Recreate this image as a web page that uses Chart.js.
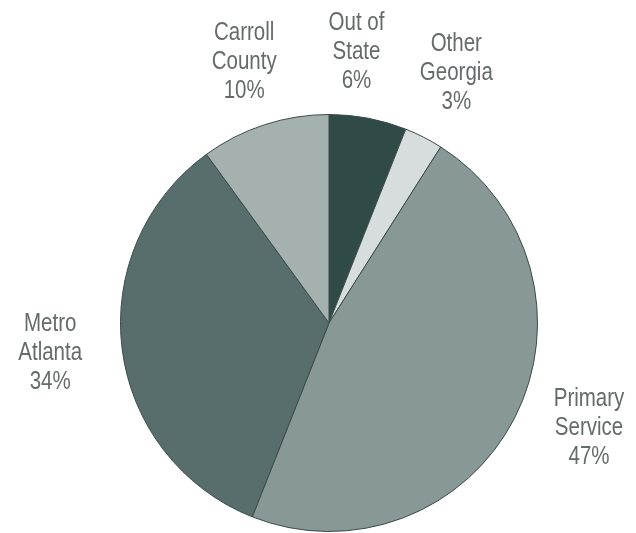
<!DOCTYPE html>
<html>
<head>
<meta charset="utf-8">
<script src="https://cdn.jsdelivr.net/npm/chart.js@4"></script>
<style>
  html, body { margin: 0; padding: 0; background: #ffffff; }
  canvas { display: block; }
</style>
</head>
<body>
<canvas id="regionChart" width="636" height="533"></canvas>
<script>
// Student origin shares, clockwise from 12 o'clock
const regions = ['Out of State', 'Other Georgia', 'Primary Service', 'Metro Atlanta', 'Carroll County'];
const labelLines = [['Out of', 'State'], ['Other', 'Georgia'], ['Primary', 'Service'], ['Metro', 'Atlanta'], ['Carroll', 'County']];
const shares = [6, 3, 47, 34, 10];

const sliceColors = ['#2f4a47', '#d6dddc', '#879896', '#586e6c', '#a4b1af'];
// small nudges so labels sit clear of neighbours: angle (deg), radial (px)
const labelTurn = [-5, 0, -5, 1, 0];
const labelPush = [-8, 0, 0, 0, -6];

const outsideLabels = {
    id: 'outsideLabels',
    afterDatasetsDraw(chart) {
        const ctx = chart.ctx;
        const meta = chart.getDatasetMeta(0);
        ctx.save();
        ctx.font = '25px "Liberation Sans", Arial, sans-serif';
        ctx.fillStyle = '#656a6a';
        ctx.textAlign = 'center';
        ctx.textBaseline = 'middle';
        meta.data.forEach((arc, i) => {
            const p = arc.getProps(['x', 'y', 'startAngle', 'endAngle', 'outerRadius'], true);
            const mid = (p.startAngle + p.endAngle) / 2 + labelTurn[i] * Math.PI / 180;
            const d = p.outerRadius * 1.345 + labelPush[i];
            const cx = p.x + Math.cos(mid) * d;
            const cy = p.y + Math.sin(mid) * d;
            const lines = labelLines[i].concat([shares[i] + '%']);
            const lh = 29;
            lines.forEach((t, k) => {
                // condensed look: squeeze the regular face horizontally
                ctx.save();
                ctx.translate(cx, cy + (k - (lines.length - 1) / 2) * lh);
                ctx.scale(0.82, 1);
                ctx.fillText(t, 0, 0);
                ctx.restore();
            });
        });
        ctx.restore();
    }
};

const ctx = document.getElementById('regionChart').getContext('2d');
new Chart(ctx, {
    type: 'pie',
    data: {
        labels: regions,
        datasets: [{
            data: shares,
            backgroundColor: sliceColors,
            borderColor: '#3b4b49',
            borderWidth: 1
        }]
    },
    options: {
        responsive: false,
        animation: false,
        layout: { padding: { left: 120, right: 98, top: 114, bottom: 1 } },
        plugins: {
            legend: { display: false },
            tooltip: { enabled: false }
        }
    },
    plugins: [outsideLabels]
});
</script>
</body>
</html>
